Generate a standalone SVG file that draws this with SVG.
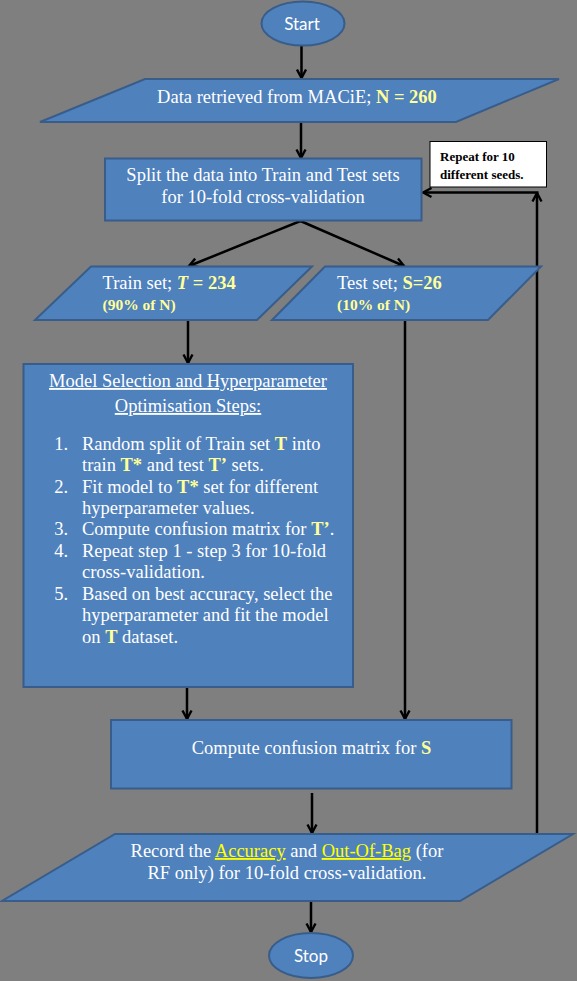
<svg xmlns="http://www.w3.org/2000/svg" width="577" height="981" viewBox="0 0 577 981">
<defs>
<marker id="ah" markerUnits="userSpaceOnUse" viewBox="0 0 12 12" refX="10.5" refY="6" markerWidth="12" markerHeight="12" orient="auto">
<path d="M2,1.5 L10.5,6 L2,10.5" fill="none" stroke="#000" stroke-width="2.4" stroke-linejoin="miter"/>
</marker>
<style>
.shape{fill:#4f81bd;stroke:#385d8a;stroke-width:2}
.t{font-family:"Liberation Serif","Times New Roman",serif;font-size:18.5px;fill:#fff}
.sm{font-size:15.5px}
.s{font-family:Lato,"Liberation Sans",sans-serif;font-size:17px;fill:#fff}
.y{fill:#ffff99;font-weight:bold}
.u{fill:#ffff00;text-decoration:underline}
.c{stroke:#000;stroke-width:2.5;fill:none;marker-end:url(#ah)}
</style>
</defs>
<rect x="0" y="0" width="577" height="981" fill="#7f7f7f"/>

<g id="connectors">
<line class="c" x1="301.5" y1="46" x2="301.5" y2="78"/>
<line class="c" x1="301" y1="123" x2="301" y2="158"/>
<line class="c" x1="300.5" y1="221" x2="189" y2="266"/>
<line class="c" x1="300.5" y1="221" x2="404" y2="266"/>
<line class="c" x1="188" y1="321" x2="188" y2="363"/>
<line class="c" x1="405" y1="321" x2="405" y2="719"/>
<line class="c" x1="187" y1="688" x2="187" y2="719"/>
<line class="c" x1="312" y1="793" x2="312" y2="833"/>
<line class="c" x1="311" y1="902" x2="311" y2="932"/>
<line class="c" x1="537" y1="834" x2="537" y2="193"/>
<line class="c" x1="538.5" y1="192.5" x2="423" y2="192.5"/>
</g>

<g id="start">
<ellipse class="shape" cx="303" cy="23.5" rx="41.5" ry="22"/>
<text class="s" x="302" y="30" text-anchor="middle">Start</text>
</g>

<g id="data">
<polygon class="shape" points="145,79 559,79 456,122 40,122"/>
<text class="t" x="297" y="103" text-anchor="middle">Data retrieved from MACiE; <tspan class="y">N = 260</tspan></text>
</g>

<g id="split">
<rect class="shape" x="105" y="158.5" width="316.5" height="62"/>
<text class="t" x="263" y="181" text-anchor="middle">Split the data into Train and Test sets</text>
<text class="t" x="263" y="203" text-anchor="middle">for 10-fold cross-validation</text>
</g>

<g id="repeat">
<rect x="430" y="141.5" width="116.5" height="45.5" fill="#fff" stroke="#000" stroke-width="1"/>
<text x="440" y="161" font-family="'Liberation Serif','Times New Roman',serif" font-size="13" font-weight="bold" fill="#000">Repeat for 10</text>
<text x="440" y="178.5" font-family="'Liberation Serif','Times New Roman',serif" font-size="13" font-weight="bold" fill="#000">different seeds.</text>
</g>

<g id="train">
<polygon class="shape" points="91,266.5 312,266.5 257,320 35,320"/>
<text class="t" x="102.5" y="289">Train set; <tspan class="y" font-style="italic">T</tspan><tspan class="y"> = 234</tspan></text>
<text class="t sm" x="102.5" y="310"><tspan class="y">(90% of N)</tspan></text>
</g>

<g id="test">
<polygon class="shape" points="325,266.5 541,266.5 488,320 272,320"/>
<text class="t" x="337" y="289">Test set; <tspan class="y">S=26</tspan></text>
<text class="t sm" x="337" y="310"><tspan class="y">(10% of N)</tspan></text>
</g>

<g id="model">
<rect class="shape" x="23.5" y="364" width="329.5" height="323"/>
<text class="t" x="188" y="387" text-anchor="middle" text-decoration="underline">Model Selection and Hyperparameter</text>
<text class="t" x="188" y="412" text-anchor="middle" text-decoration="underline">Optimisation Steps:</text>
<text class="t" x="68" y="450" text-anchor="end">1.</text>
<text class="t" x="82" y="450">Random split of Train set <tspan class="y">T</tspan> into</text>
<text class="t" x="82" y="471">train <tspan class="y">T*</tspan> and test <tspan class="y">T’</tspan> sets.</text>
<text class="t" x="68" y="493" text-anchor="end">2.</text>
<text class="t" x="82" y="493">Fit model to <tspan class="y">T*</tspan> set for different</text>
<text class="t" x="82" y="514">hyperparameter values.</text>
<text class="t" x="68" y="535" text-anchor="end">3.</text>
<text class="t" x="82" y="535">Compute confusion matrix for <tspan class="y">T’</tspan>.</text>
<text class="t" x="68" y="557" text-anchor="end">4.</text>
<text class="t" x="82" y="557">Repeat step 1 - step 3 for 10-fold</text>
<text class="t" x="82" y="578">cross-validation.</text>
<text class="t" x="68" y="600" text-anchor="end">5.</text>
<text class="t" x="82" y="600">Based on best accuracy, select the</text>
<text class="t" x="82" y="621">hyperparameter and fit the model</text>
<text class="t" x="82" y="643">on <tspan class="y">T</tspan> dataset.</text>
</g>

<g id="compute">
<rect class="shape" x="111" y="720" width="400.5" height="68.5"/>
<text class="t" x="311.5" y="754" text-anchor="middle">Compute confusion matrix for <tspan class="y">S</tspan></text>
</g>

<g id="record">
<polygon class="shape" points="115,834 573,834 460,901 2,901"/>
<text class="t" x="287" y="857" text-anchor="middle">Record the <tspan class="u">Accuracy</tspan> and <tspan class="u">Out-Of-Bag</tspan> (for</text>
<text class="t" x="287" y="879" text-anchor="middle">RF only) for 10-fold cross-validation.</text>
</g>

<g id="stop">
<ellipse class="shape" cx="311" cy="955.5" rx="42" ry="22.5"/>
<text class="s" x="311" y="961.5" text-anchor="middle">Stop</text>
</g>
</svg>
